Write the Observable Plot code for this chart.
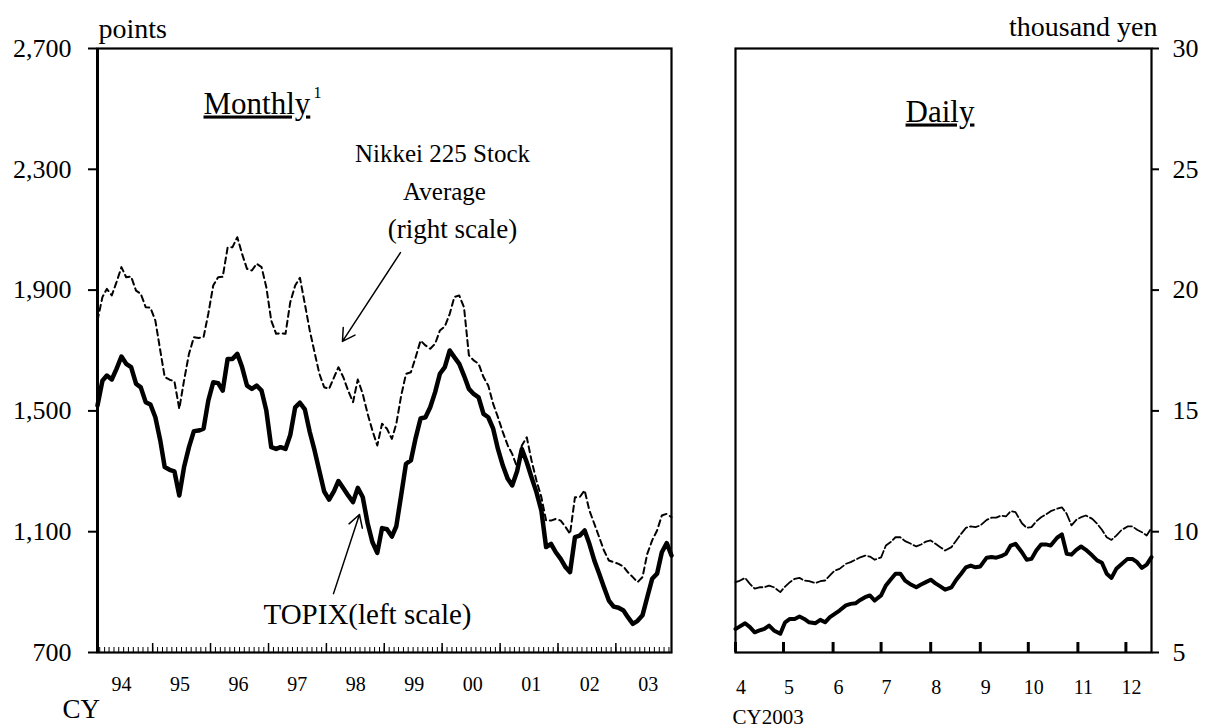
<!DOCTYPE html>
<html><head><meta charset="utf-8">
<script src="https://cdn.jsdelivr.net/npm/d3@7"></script>
<script src="https://cdn.jsdelivr.net/npm/@observablehq/plot@0.6"></script>
<style>
html,body{margin:0;padding:0;background:#fff;}
#wrap{position:relative;width:1206px;height:727px;overflow:hidden;background:#fff;}
#left,#right{position:absolute;top:0;}
#left{left:0;} #right{left:700px;}
</style></head>
<body><div id="wrap"><div id="left"></div><div id="right"></div></div>
<script>
// ---------- data ----------
const monthlyStart = "1994-01-01";
const monthlyEnd = "2003-12-01";
const topixMonthly = [1518,1600,1617,1604,1639,1680,1656,1645,1590,1578,1529,1521,
 1479,1402,1314,1305,1300,1220,1314,1380,1433,1435,1441,1534,
 1595,1592,1567,1672,1672,1689,1645,1584,1573,1584,1567,1501,
 1380,1374,1380,1374,1420,1512,1527,1505,1430,1370,1300,1233,
 1206,1234,1268,1244,1220,1198,1245,1215,1128,1066,1030,1112,
 1108,1084,1118,1222,1325,1336,1410,1475,1479,1512,1562,1623,
 1645,1700,1678,1656,1617,1573,1556,1545,1490,1479,1441,1374,
 1319,1275,1253,1300,1374,1330,1280,1231,1170,1049,1060,1032,
 1010,982,966,1082,1087,1104,1060,1005,961,916,872,852,
 848,839,817,795,805,823,883,944,961,1032,1062,1021];
const nikkeiMonthly = [18.74,19.71,20.05,19.78,20.33,20.95,20.53,20.56,19.98,19.85,19.29,19.27,
 18.74,17.5,16.4,16.29,16.23,15.09,16.26,17.36,18.05,18.02,18.05,19.02,
 20.19,20.53,20.55,21.77,21.77,22.19,21.5,20.88,20.81,21.09,20.95,20.12,
 18.74,18.19,18.22,18.19,19.5,20.19,20.51,19.43,18.33,17.43,16.53,15.98,
 15.91,16.39,16.81,16.39,15.84,15.36,16.3,15.71,14.88,14.19,13.57,14.47,
 14.26,13.84,14.47,15.64,16.53,16.6,17.22,17.91,17.71,17.57,17.78,18.33,
 18.49,19.02,19.71,19.78,19.29,17.3,17.09,16.95,16.4,16.05,15.29,14.74,
 14.12,13.57,13.22,12.67,13.57,13.91,12.95,12.12,11.43,10.46,10.46,10.53,
 10.46,10.19,9.91,11.43,11.43,11.71,10.88,10.33,9.77,9.22,8.81,8.74,
 8.67,8.56,8.32,8.12,7.91,8.12,9.08,9.64,10.05,10.67,10.74,10.6];
const yearLabels = ["94","95","96","97","98","99","00","01","02","03"];

const dailyDates = ["2003-04-01","2003-04-03","2003-04-07","2003-04-10","2003-04-13","2003-04-16","2003-04-19","2003-04-22","2003-04-25","2003-04-29",
"2003-05-02","2003-05-05","2003-05-08","2003-05-11","2003-05-14","2003-05-17","2003-05-21","2003-05-24","2003-05-27","2003-05-30",
"2003-06-02","2003-06-05","2003-06-09","2003-06-12","2003-06-15","2003-06-18","2003-06-21","2003-06-24","2003-06-27","2003-07-01",
"2003-07-04","2003-07-07","2003-07-10","2003-07-13","2003-07-16","2003-07-19","2003-07-23","2003-07-26","2003-07-29","2003-08-01",
"2003-08-04","2003-08-07","2003-08-10","2003-08-14","2003-08-17","2003-08-20","2003-08-23","2003-08-26","2003-08-29","2003-09-01",
"2003-09-05","2003-09-08","2003-09-11","2003-09-14","2003-09-17","2003-09-20","2003-09-23","2003-09-27","2003-09-30","2003-10-03",
"2003-10-06","2003-10-09","2003-10-12","2003-10-15","2003-10-19","2003-10-22","2003-10-25","2003-10-28","2003-10-31","2003-11-03",
"2003-11-06","2003-11-10","2003-11-13","2003-11-16","2003-11-19","2003-11-22","2003-11-25","2003-11-28","2003-12-02","2003-12-05",
"2003-12-08","2003-12-11","2003-12-14","2003-12-17"];
const topixDaily = [778,784,797,784,767,773,778,789,773,762,
 800,811,811,819,811,800,797,808,800,817,
 828,839,856,861,863,874,883,889,872,889,
 922,942,961,961,938,927,916,925,933,941,
 929,919,908,916,941,961,982,988,982,985,
 1014,1016,1014,1019,1027,1054,1060,1032,1007,1010,
 1038,1058,1058,1054,1080,1091,1027,1024,1040,1051,
 1040,1021,1005,997,961,947,977,991,1010,1010,
 999,980,991,1016];
const nikkeiDaily = [7.91,7.95,8.09,7.84,7.64,7.70,7.70,7.77,7.70,7.50,
 7.73,7.91,8.05,8.09,7.98,7.95,7.87,7.95,7.98,8.19,
 8.39,8.46,8.67,8.74,8.84,8.94,9.01,8.97,8.84,8.94,
 9.43,9.57,9.77,9.77,9.61,9.52,9.39,9.47,9.59,9.64,
 9.50,9.36,9.22,9.36,9.64,9.91,10.16,10.22,10.19,10.26,
 10.49,10.58,10.58,10.67,10.63,10.85,10.81,10.35,10.16,10.19,
 10.43,10.60,10.71,10.85,10.95,11.01,10.74,10.26,10.49,10.60,
 10.67,10.53,10.33,10.08,9.77,9.66,9.84,10.05,10.22,10.22,
 10.08,9.98,9.84,10.16];
const dailyMonthLabels = ["4","5","6","7","8","9","10","11","12"];
const leftTicks = [700,1100,1500,1900,2300,2700];
const rightTicks = [5,10,15,20,25,30];

// ---------- helpers ----------
const FONT = "'Liberation Serif','Times New Roman',serif";
const toLeft = nk => 700 + (nk - 5) * 80;      // thousand yen -> points
const toRight = tp => 5 + (tp - 700) / 80;     // points -> thousand yen
const U = (y, m, d) => new Date(Date.UTC(y, m, d));
const yr = f => { const y = Math.floor(f); const a = Date.UTC(y,0,1), b = Date.UTC(y+1,0,1); return new Date(a + (f - y) * (b - a)); };

const months = d3.utcMonths(new Date(monthlyStart), d3.utcMonth.offset(new Date(monthlyEnd), 1));
const mData = months.map((d, i) => ({date: d, topix: topixMonthly[i], nikkei: nikkeiMonthly[i]}));
const mDomain = [months[0], months[months.length - 1]];
const monthTicks = months.map(d => d3.utcDay.offset(d, 14)).filter(d => d <= mDomain[1]);
const yearTicks = d3.range(1994, 2003).map(y => U(y, 11, 15));
const yearLabelRows = yearLabels.map((t, i) => ({date: yr(1994.4145 + 1.0112 * i), label: t}));

const dData = dailyDates.map((s, i) => ({date: new Date(s), topix: topixDaily[i], nikkei: nikkeiDaily[i]}));
const dDomain = [new Date(dailyDates[0]), new Date(dailyDates[dailyDates.length - 1])];
const dMonthStarts = d3.utcMonths(dDomain[0], dDomain[1]);
const dMonthRows = dMonthStarts.map((d, i) => ({date: d, label: dailyMonthLabels[i]}));

const styleBase = {fontFamily: FONT, fontSize: "25px", color: "#000", background: "transparent", overflow: "visible"};
const note = (txt, o) => Plot.text([txt], {text: d => d, lineAnchor: "bottom", fill: "#000", ...o});

// ---------- left panel: monthly ----------
const left = Plot.plot({
  width: 700, height: 727,
  marginLeft: 97, marginRight: 29, marginTop: 48, marginBottom: 75,
  style: styleBase,
  x: {type: "utc", domain: mDomain},
  y: {domain: [700, 2700]},
  marks: [
    Plot.axisY(leftTicks, {tickSize: 9, tickPadding: 17, strokeWidth: 2, tickFormat: d3.format(","), fontSize: 26, label: null}),
    Plot.axisX(monthTicks, {tickSize: -5, strokeWidth: 1, tickFormat: () => "", label: null}),
    Plot.axisX(yearTicks, {tickSize: -9, strokeWidth: 1.5, tickFormat: () => "", label: null}),
    Plot.text(yearLabelRows, {x: "date", text: "label", frameAnchor: "bottom", lineAnchor: "bottom", dy: 38, fontSize: 20}),
    Plot.frame({stroke: "#000", strokeWidth: 2.2}),
    Plot.ruleX([mDomain[0]], {stroke: "#000", strokeWidth: 3}),
    Plot.line(mData, {x: "date", y: d => toLeft(d.nikkei), stroke: "#000", strokeWidth: 2, strokeDasharray: "6,4"}),
    Plot.line(mData, {x: "date", y: "topix", stroke: "#000", strokeWidth: 4.5, strokeLinejoin: "round"}),
    // annotations
    note("points", {frameAnchor: "top-left", textAnchor: "start", dx: 1, dy: -11, fontSize: 28}),
    note("Monthly", {frameAnchor: "top-left", textAnchor: "start", dx: 106, dy: 65, fontSize: 31}),
    note("1", {frameAnchor: "top-left", textAnchor: "start", dx: 216, dy: 49, fontSize: 16}),
    note("Nikkei 225 Stock", {frameAnchor: "top-left", textAnchor: "middle", dx: 345, dy: 113, fontSize: 25}),
    note("Average", {frameAnchor: "top-left", textAnchor: "middle", dx: 347, dy: 151, fontSize: 25}),
    note("(right scale)", {frameAnchor: "top-left", textAnchor: "middle", dx: 355, dy: 189, fontSize: 27}),
    note("TOPIX(left scale)", {frameAnchor: "top-left", textAnchor: "middle", dx: 270, dy: 575, fontSize: 29}),
    note("CY", {frameAnchor: "bottom-left", textAnchor: "start", dx: -35, dy: 65, fontSize: 27}),
    Plot.arrow([{x1: yr(1999.233), y1: 2024, x2: yr(1998.231), y2: 1730}], {x1: "x1", y1: "y1", x2: "x2", y2: "y2", stroke: "#000", strokeWidth: 1.5, headLength: 14}),
    Plot.arrow([{x1: yr(1998.076), y1: 895, x2: yr(1998.525), y2: 1157}], {x1: "x1", y1: "y1", x2: "x2", y2: "y2", stroke: "#000", strokeWidth: 1.5, headLength: 14})
  ]
});
document.getElementById("left").append(left);

// ---------- right panel: daily ----------
const right = Plot.plot({
  width: 506, height: 727,
  marginLeft: 35, marginRight: 55, marginTop: 48, marginBottom: 75,
  style: styleBase,
  x: {type: "utc", domain: dDomain},
  y: {domain: [5, 30]},
  marks: [
    Plot.axisY(rightTicks, {anchor: "right", tickSize: 7, tickPadding: 14, strokeWidth: 2, fontSize: 26, label: null}),
    Plot.axisX(dMonthStarts, {tickSize: -10, strokeWidth: 3, tickFormat: () => "", label: null}),
    Plot.text(dMonthRows, {x: "date", text: "label", frameAnchor: "bottom", lineAnchor: "bottom", dx: 5.5, dy: 41, fontSize: 20}),
    Plot.frame({stroke: "#000", strokeWidth: 2.2}),
    Plot.line(dData, {x: "date", y: "nikkei", stroke: "#000", strokeWidth: 1.8, strokeDasharray: "9,3"}),
    Plot.line(dData, {x: "date", y: d => toRight(d.topix), stroke: "#000", strokeWidth: 4, strokeLinejoin: "round"}),
    note("thousand yen", {frameAnchor: "top-right", textAnchor: "end", dx: 6, dy: -13, fontSize: 28}),
    note("Daily", {frameAnchor: "top-left", textAnchor: "middle", dx: 204.5, dy: 73, fontSize: 31}),
    note("CY2003", {frameAnchor: "bottom-left", textAnchor: "start", dx: -3, dy: 71, fontSize: 21})
  ]
});
document.getElementById("right").append(right);

// underline the panel titles
for (const svg of [left, right]) {
  d3.select(svg).selectAll("text")
    .filter(function() { return this.textContent === "Monthly" || this.textContent === "Daily"; })
    .attr("text-decoration", "underline");
}
</script>
</body></html>
